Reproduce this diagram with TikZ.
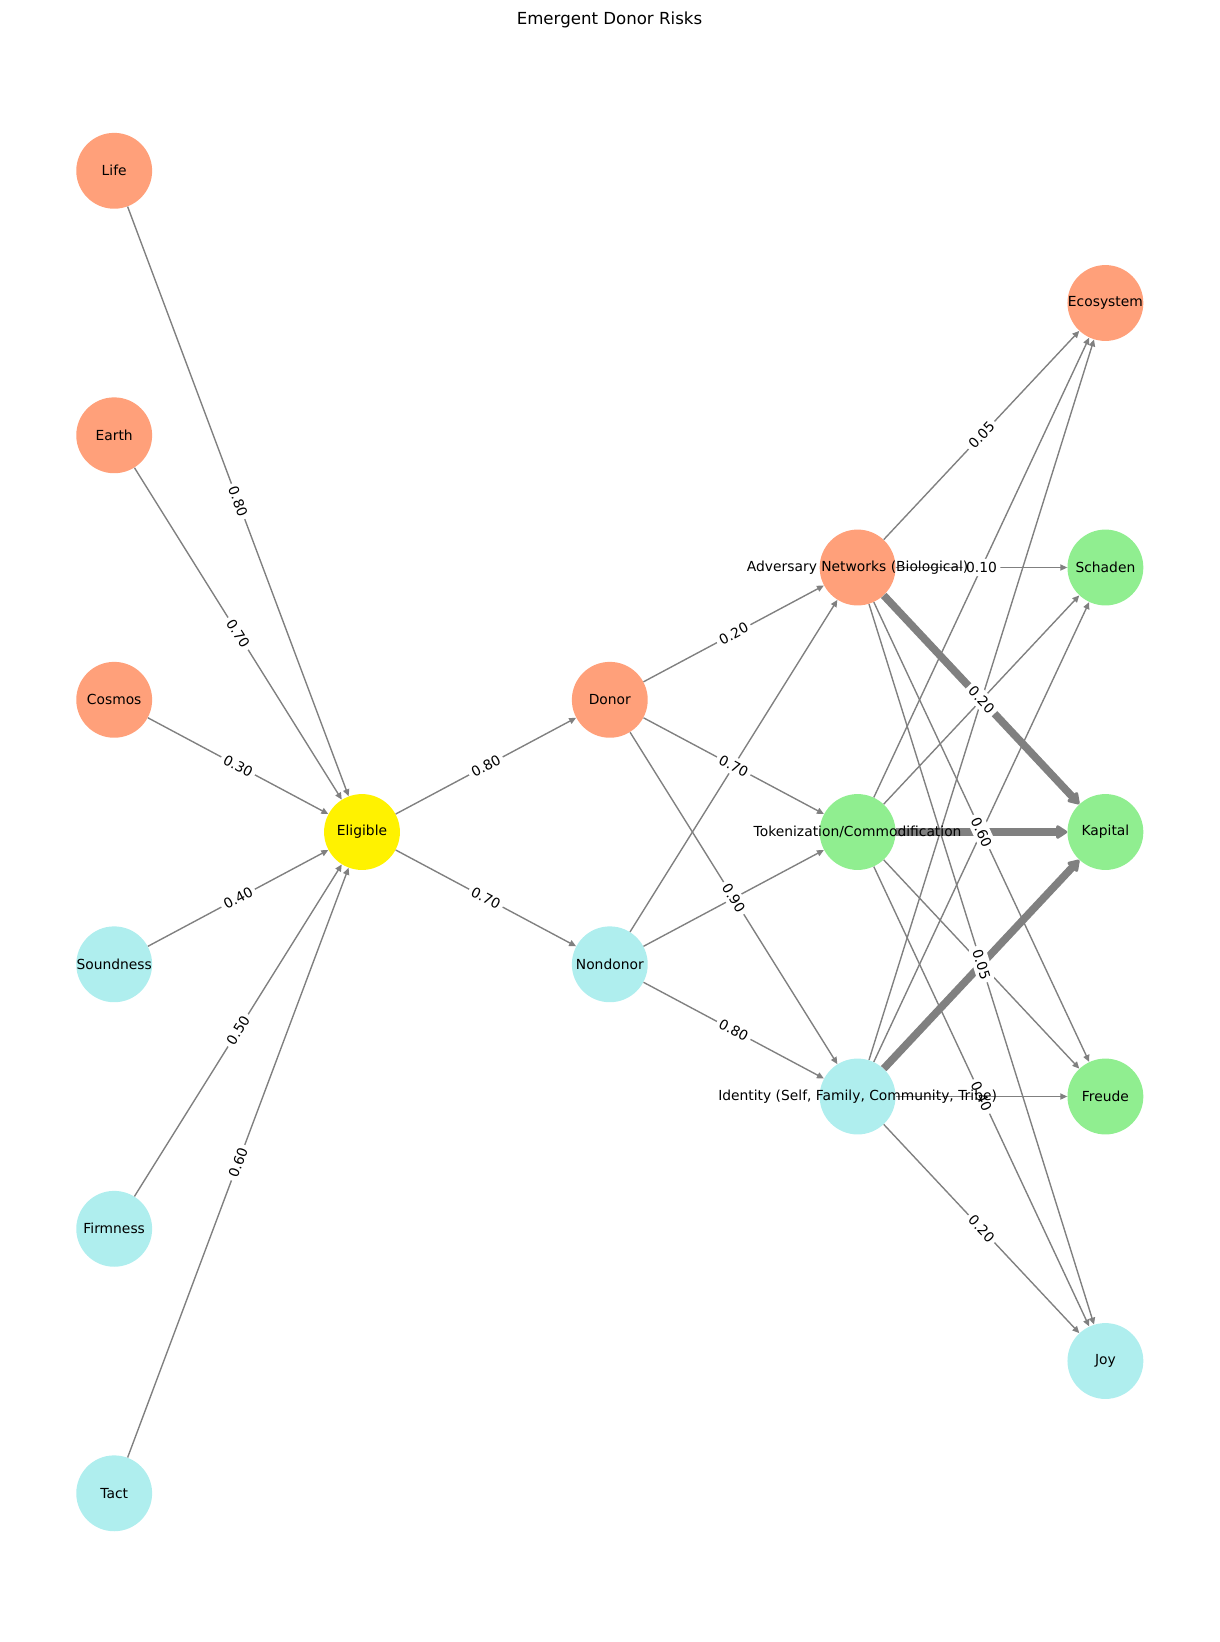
\documentclass[tikz,border=0pt]{standalone}
\usepackage{fontspec}
\setmainfont{DejaVu Sans}
\usetikzlibrary{arrows.meta}
\definecolor{riskfill}{RGB}{255,160,122}
\definecolor{palefill}{RGB}{175,238,238}
\definecolor{gainfill}{RGB}{144,238,144}
\definecolor{wiregray}{RGB}{128,128,128}

\begin{document}
\begin{tikzpicture}[x=0.01in, y=-0.01in,
    vertex/.style={circle, minimum size=54.8pt, inner sep=0pt},
    riskn/.style={vertex, fill=riskfill},
    palen/.style={vertex, fill=palefill},
    gainn/.style={vertex, fill=gainfill},
    hubn/.style={vertex, fill=yellow},
    wire/.style={draw=wiregray, line width=1pt, -{Triangle[length=5pt,width=4.5pt]}},
    heavy/.style={draw=wiregray, line width=5.5pt, -{Triangle[length=9pt,width=11pt,round]}},
    wlabel/.style={fill=white, inner sep=2.5pt, rounded corners=3pt, font=\fontsize{10}{12}\selectfont},
    nlabel/.style={font=\fontsize{10}{12}\selectfont, inner sep=0pt}]
    \useasboundingbox (0,0) rectangle (1220,1642);

    \node[riskn] (life) at (114.2,170.8) {};
    \node[riskn] (earth) at (114.2,435.3) {};
    \node[riskn] (cosmos) at (114.2,699.8) {};
    \node[palen] (sound) at (114.2,964.3) {};
    \node[palen] (firm) at (114.2,1228.8) {};
    \node[palen] (tact) at (114.2,1493.3) {};
    \node[hubn] (elig) at (362,832) {};
    \node[riskn] (donor) at (609.8,699.8) {};
    \node[palen] (nondonor) at (609.8,964.3) {};
    \node[riskn] (adv) at (857.6,567.5) {};
    \node[gainn] (token) at (857.6,832) {};
    \node[palen] (ident) at (857.6,1096.5) {};
    \node[riskn] (eco) at (1105.4,303) {};
    \node[gainn] (schaden) at (1105.4,567.5) {};
    \node[gainn] (kapital) at (1105.4,832) {};
    \node[gainn] (freude) at (1105.4,1096.5) {};
    \node[palen] (joy) at (1105.4,1361) {};

    \draw[wire] (life) -- (elig);
    \draw[wire] (earth) -- (elig);
    \draw[wire] (cosmos) -- (elig);
    \draw[wire] (sound) -- (elig);
    \draw[wire] (firm) -- (elig);
    \draw[wire] (tact) -- (elig);
    \draw[wire] (elig) -- (donor);
    \draw[wire] (elig) -- (nondonor);
    \draw[wire] (donor) -- (adv);
    \draw[wire] (donor) -- (token);
    \draw[wire] (donor) -- (ident);
    \draw[wire] (nondonor) -- (adv);
    \draw[wire] (nondonor) -- (token);
    \draw[wire] (nondonor) -- (ident);
    \draw[wire] (adv) -- (eco);
    \draw[wire] (adv) -- (schaden);
    \draw[heavy] (adv) -- (kapital);
    \draw[wire] (adv) -- (freude);
    \draw[wire] (adv) -- (joy);
    \draw[wire] (token) -- (eco);
    \draw[wire] (token) -- (schaden);
    \draw[heavy] (token) -- (kapital);
    \draw[wire] (token) -- (freude);
    \draw[wire] (token) -- (joy);
    \draw[wire] (ident) -- (eco);
    \draw[wire] (ident) -- (schaden);
    \draw[heavy] (ident) -- (kapital);
    \draw[wire] (ident) -- (freude);
    \draw[wire] (ident) -- (joy);

    \path (life) -- (elig) node[wlabel, midway, sloped] (w-life) {0.80};
    \path (earth) -- (elig) node[wlabel, midway, sloped] (w-earth) {0.70};
    \path (cosmos) -- (elig) node[wlabel, midway, sloped] (w-cosmos) {0.30};
    \path (sound) -- (elig) node[wlabel, midway, sloped] (w-sound) {0.40};
    \path (firm) -- (elig) node[wlabel, midway, sloped] (w-firm) {0.50};
    \path (tact) -- (elig) node[wlabel, midway, sloped] (w-tact) {0.60};
    \path (elig) -- (donor) node[wlabel, midway, sloped] (w-donor) {0.80};
    \path (elig) -- (nondonor) node[wlabel, midway, sloped] (w-nondonor) {0.70};
    \path (donor) -- (adv) node[wlabel, midway, sloped] (w-da) {0.20};
    \path (donor) -- (token) node[wlabel, midway, sloped] (w-dt) {0.70};
    \path (donor) -- (ident) node[wlabel, midway, sloped] (w-di) {0.90};
    \path (nondonor) -- (ident) node[wlabel, midway, sloped] (w-ni) {0.80};
    \path (token) -- (joy) node[wlabel, midway, sloped] (w-tj) {0.40};
    \path (ident) -- (joy) node[wlabel, midway, sloped] (w-ij) {0.20};
    \path (adv) -- (eco) node[wlabel, midway, sloped] (w-ae) {0.05};
    \path (adv) -- (schaden) node[wlabel, midway, sloped] (w-as) {0.10};
    \path (adv) -- (kapital) node[wlabel, midway, sloped] (w-ak) {0.20};
    \path (adv) -- (freude) node[wlabel, midway, sloped] (w-af) {0.60};
    \path (adv) -- (joy) node[wlabel, midway, sloped] (w-aj) {0.05};

    \node[nlabel] (life-t) at (life) {Life};
    \node[nlabel] (earth-t) at (earth) {Earth};
    \node[nlabel] (cosmos-t) at (cosmos) {Cosmos};
    \node[nlabel] (sound-t) at (sound) {Soundness};
    \node[nlabel] (firm-t) at (firm) {Firmness};
    \node[nlabel] (tact-t) at (tact) {Tact};
    \node[nlabel] (elig-t) at (elig) {Eligible};
    \node[nlabel] (donor-t) at (donor) {Donor};
    \node[nlabel] (nondonor-t) at (nondonor) {Nondonor};
    \node[nlabel] (adv-t) at (adv) {Adversary Networks (Biological)};
    \node[nlabel] (token-t) at (token) {Tokenization/Commodification};
    \node[nlabel] (ident-t) at (ident) {Identity (Self, Family, Community, Tribe)};
    \node[nlabel] (eco-t) at (eco) {Ecosystem};
    \node[nlabel] (schaden-t) at (schaden) {Schaden};
    \node[nlabel] (kapital-t) at (kapital) {Kapital};
    \node[nlabel] (freude-t) at (freude) {Freude};
    \node[nlabel] (joy-t) at (joy) {Joy};

    \node[font=\fontsize{12}{14}\selectfont, anchor=base] (title) at (609.5,24.3) {Emergent Donor Risks};
\end{tikzpicture}
\end{document}
